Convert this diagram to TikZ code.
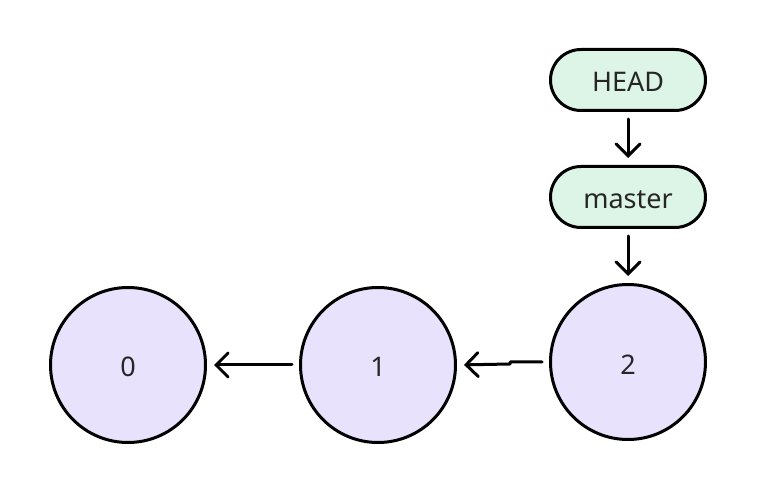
\documentclass[tikz,border=0pt]{standalone}
\usepackage{fontspec}
\setmainfont{Noto Sans}
\usetikzlibrary{arrows.meta,shapes.misc}
\definecolor{commitfill}{HTML}{E8E2FD}
\definecolor{reffill}{HTML}{DDF5E6}
\definecolor{labeltext}{HTML}{262626}
\begin{document}
\begin{tikzpicture}[x=1pt,y=-1pt,
  label text/.style={text=labeltext,font=\fontsize{27}{32}\selectfont,
    text height=24pt,text depth=0pt},
  commit/.style={circle,draw=black,line width=3pt,fill=commitfill,
    minimum size=155pt,inner sep=0pt,label text},
  ref/.style={rounded rectangle,draw=black,line width=3pt,fill=reffill,
    minimum width=155pt,minimum height=61pt,inner sep=0pt,label text},
  link/.style={line width=3pt,line cap=round,line join=round,
    -{Straight Barb[length=12pt,width=24pt,line cap=round]},
    shorten <=7pt,shorten >=7pt}]
  \useasboundingbox (0,0) rectangle (758,494);
  % commits
  \node[commit] (c0) at (128,365) {0};
  \node[commit] (c1) at (378,365) {1};
  \node[commit] (c2) at (628,362) {2};
  % references
  \node[ref] (head) at (628,80) {HEAD};
  \node[ref] (master) at (628,197) {master};
  % parent links
  \draw[link] (c2.west) -- ++(-39,0) coordinate (kink) -- ++(0,2) -- (c1.east);
  \draw[link] (c1.west) -- (c0.east);
  % reference links
  \draw[link] (head.south) -- (master.north);
  \draw[link] (master.south) -- (c2.north);
\end{tikzpicture}
\end{document}
